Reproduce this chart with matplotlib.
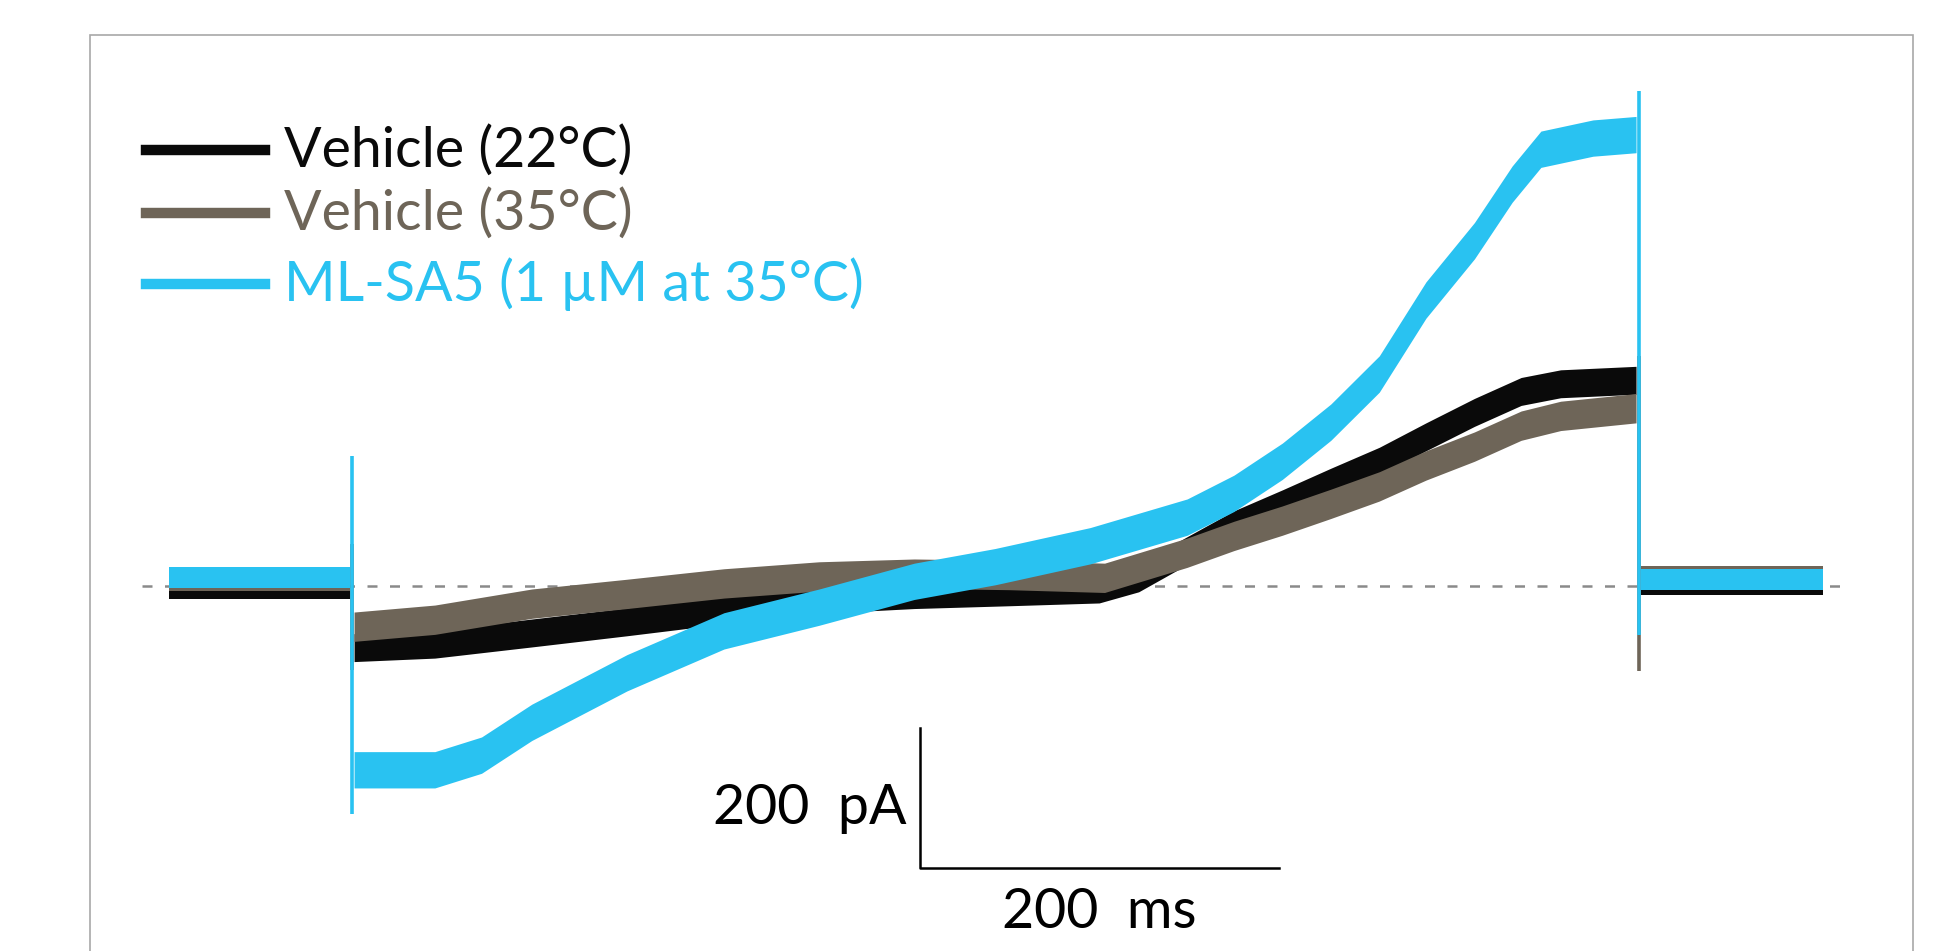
import matplotlib.pyplot as plt
from matplotlib.lines import Line2D
from matplotlib.patches import Rectangle
import numpy as np

plt.rcParams['font.family'] = ['Lato', 'DejaVu Sans']

# time (ms) and current (pA)
t_blue = [103, 148, 174, 202, 255, 309, 362, 415, 460, 513, 567, 593, 620, 647,
          674, 700, 727, 748, 764, 793, 817]
i_blue = [-263, -263, -242, -195, -124, -64, -30, 7, 28, 58, 99, 133, 179, 235,
          304, 410, 495, 576, 626, 642, 647]

t_black = [103, 148, 202, 255, 309, 362, 415, 468, 518, 540, 567, 593, 620, 647,
           674, 700, 727, 753, 775, 817]
i_black = [-88, -83, -67, -51, -34, -19, -12, -8, -4, 12, 51, 88, 118, 149,
           179, 214, 249, 279, 290, 295]

t_brown = [103, 148, 202, 255, 309, 362, 415, 468, 521, 567, 593, 620, 647,
           674, 700, 727, 753, 775, 817]
i_brown = [-58, -48, -25, -11, 4, 14, 18, 16, 12, 48, 72, 94, 118, 143,
           173, 200, 230, 244, 255]

# holding segments before and after the ramp
t_pre = [0, 101]
t_post = [820, 921]
pre_level = {'black': -4, 'brown': 8, 'blue': 12}
post_level = {'black': 2, 'brown': 14, 'blue': 9}

# capacitive spikes (min, max) at ramp onset / offset
spike_on = {'brown': (-120, 60), 'blue': (-327, 186)}
spike_off = {'brown': (-121, 330), 'blue': (-70, 709)}
t_on, t_off = 102, 818.5

# noise band half width (pA)
half = {'black': 20, 'brown': 21, 'blue': 26}
half_hold = 15

labels = ['Vehicle (22°C)', 'Vehicle (35°C)', 'ML-SA5 (1 µM at 35°C)']
colors = {'black': '#0a0a0a', 'brown': '#6e6558', 'blue': '#29c2f1'}

fig = plt.figure(figsize=(19.35, 9.51), dpi=100)
ax = fig.add_axes([0, 0, 1, 1])
ax.set_xlim(-94.2, 983.5)
ax.set_ylim(-522.6, 839.8)
ax.axis('off')

ax.plot([-15, 932], [0, 0], color='#8a8a8a', lw=1.8, ls=(0, (4, 5)), zorder=1)

traces = {'black': (t_black, i_black), 'brown': (t_brown, i_brown),
          'blue': (t_blue, i_blue)}
for z, key in enumerate(['black', 'brown', 'blue']):
    c = colors[key]
    h = half[key]
    t, i = traces[key]
    i = np.array(i, dtype=float)
    ax.fill_between(t, i - h, i + h, color=c, lw=0, zorder=2 + z)
    for tt, lvl in ((t_pre, pre_level[key]), (t_post, post_level[key])):
        ax.fill_between(tt, [lvl - half_hold] * 2, [lvl + half_hold] * 2,
                        color=c, lw=0, zorder=2 + z)
    if key in spike_on:
        ax.vlines(t_on, *spike_on[key], color=c, lw=2.6, zorder=2 + z)
        ax.vlines(t_off, *spike_off[key], color=c, lw=2.6, zorder=2 + z)

# scale bar
ax.plot([418, 418, 618], [-203, -403, -403], color='black', lw=1.8, zorder=6)
ax.text(411, -318, '200  pA', ha='right', va='center', fontsize=40)
ax.text(518, -468, '200  ms', ha='center', va='center', fontsize=40)

# legend
for k, (key, lab) in enumerate(zip(['black', 'brown', 'blue'], labels)):
    y = [0.8418, 0.7756, 0.7017][k]
    fig.add_artist(Line2D([0.0753, 0.1371], [y, y], color=colors[key], lw=7.5))
    fig.text(0.1467, y, lab, color=colors[key], fontsize=40, va='center')

# frame
fig.add_artist(Rectangle((0.0466, -0.1), 0.9419, 1.0637, fill=False,
                         edgecolor='#a8a8a8', lw=1.2, transform=fig.transFigure))

fig.savefig('out.png', dpi=100)
